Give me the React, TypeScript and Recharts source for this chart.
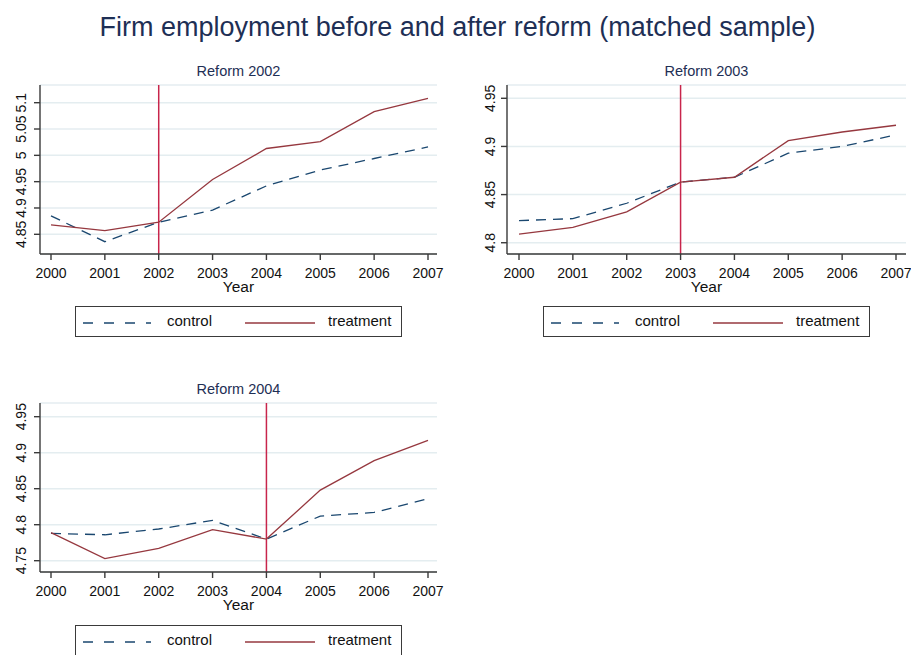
import React from "react";
import { CartesianGrid, Line, LineChart, ReferenceLine, XAxis, YAxis } from "recharts";

// Mean log firm employment by year, matched sample, one panel per reform cohort.
const YEARS = [2000, 2001, 2002, 2003, 2004, 2005, 2006, 2007];

const CONTROL_2002 = [4.885, 4.836, 4.873, 4.896, 4.942, 4.972, 4.994, 5.016];
const TREATMENT_2002 = [4.868, 4.857, 4.873, 4.954, 5.013, 5.026, 5.083, 5.108];

const CONTROL_2003 = [4.823, 4.825, 4.841, 4.863, 4.868, 4.893, 4.9, 4.912];
const TREATMENT_2003 = [4.809, 4.816, 4.832, 4.863, 4.868, 4.906, 4.915, 4.922];

const CONTROL_2004 = [4.788, 4.786, 4.794, 4.806, 4.78, 4.812, 4.817, 4.836];
const TREATMENT_2004 = [4.789, 4.753, 4.767, 4.793, 4.78, 4.848, 4.889, 4.917];

const Y_TICKS_2002 = [4.85, 4.9, 4.95, 5, 5.05, 5.1];
const Y_TICKS_2003 = [4.8, 4.85, 4.9, 4.95];
const Y_TICKS_2004 = [4.75, 4.8, 4.85, 4.9, 4.95];

const FONT = '"Liberation Sans", Arial, Helvetica, sans-serif';
const NAVY = "#1a476f";
const MAROON = "#96383f";
const CRANBERRY = "#c8254b";
const GRID = "#e4edf0";
const AXIS = "#3a3a3a";
const TITLE_COLOR = "#1e2f55";
const TEXT = "#111111";

interface PanelProps {
  subtitle: string;
  reform: number;
  control: number[];
  treatment: number[];
  yDomain: [number, number];
  yTicks: number[];
  left: number;
  top: number;
  width: number;
  plotTop: number;
  xAxisHeight: number;
  yAxisWidth: number;
  rightMargin: number;
  xPad: { left: number; right: number };
  labelX: number;
  legendLeft: number;
  legendTop: number;
}

function Legend({ left, top }: { left: number; top: number }) {
  return (
    <div
      style={{
        position: "absolute",
        left,
        top,
        width: 325,
        height: 29,
        border: `1.5px solid ${AXIS}`,
        background: "#fff",
        fontFamily: FONT,
        fontSize: 15,
        color: TEXT,
      }}
    >
      <svg width={80} height={4} style={{ position: "absolute", left: 7, top: 14 }}>
        <line x1={0} y1={2} x2={68} y2={2} stroke={NAVY} strokeWidth={1.4} strokeDasharray="10 11" />
      </svg>
      <span style={{ position: "absolute", left: 91, top: 5 }}>control</span>
      <svg width={80} height={4} style={{ position: "absolute", left: 169, top: 14 }}>
        <line x1={0} y1={2} x2={70} y2={2} stroke={MAROON} strokeWidth={1.4} />
      </svg>
      <span style={{ position: "absolute", left: 252, top: 5 }}>treatment</span>
    </div>
  );
}

function Panel(p: PanelProps) {
  const rows = YEARS.map((year, i) => ({
    year,
    control: p.control[i],
    treatment: p.treatment[i],
  }));
  const plotHeight = 169;
  const height = p.plotTop + plotHeight + p.xAxisHeight;
  const plotLeft = p.yAxisWidth;
  const plotRight = p.width - p.rightMargin;

  return (
    <>
      <div
        style={{
          position: "absolute",
          left: p.left + plotLeft,
          width: plotRight - plotLeft,
          top: p.top + p.plotTop - 22,
          textAlign: "center",
          fontFamily: FONT,
          fontSize: 14.5,
          lineHeight: "16px",
          color: TITLE_COLOR,
        }}
      >
        {p.subtitle}
      </div>
      <div style={{ position: "absolute", left: p.left, top: p.top }}>
        <LineChart
          width={p.width}
          height={height}
          data={rows}
          margin={{ top: p.plotTop, right: p.rightMargin, bottom: 0, left: 0 }}
        >
          <CartesianGrid vertical={false} stroke={GRID} strokeWidth={1.5} />
          <XAxis
            dataKey="year"
            type="number"
            domain={[2000, 2007]}
            ticks={YEARS}
            padding={p.xPad}
            height={p.xAxisHeight}
            interval={0}
            stroke={AXIS}
            strokeWidth={1.4}
            tickSize={6}
            tickMargin={8}
            tick={{ fontSize: 14, fill: TEXT, fontFamily: FONT }}
            label={{
              content: (lp: any) => {
                const vb = lp.viewBox || {};
                return (
                  <text
                    x={vb.x + vb.width / 2}
                    y={vb.y + 38}
                    textAnchor="middle"
                    fontSize={15.5}
                    fontFamily={FONT}
                    fill={TEXT}
                  >
                    Year
                  </text>
                );
              },
            }}
          />
          <YAxis
            type="number"
            domain={p.yDomain}
            ticks={p.yTicks}
            width={p.yAxisWidth}
            stroke={AXIS}
            strokeWidth={1.4}
            tickSize={6}
            tick={(tp: any) => (
              <text
                x={p.labelX}
                y={tp.y}
                transform={`rotate(-90 ${p.labelX} ${tp.y})`}
                textAnchor="middle"
                dy="0.36em"
                fontSize={14}
                fontFamily={FONT}
                fill={TEXT}
              >
                {String(tp.payload.value)}
              </text>
            )}
          />
          <ReferenceLine x={p.reform} stroke={CRANBERRY} strokeWidth={1.5} ifOverflow="extendDomain" />
          <Line
            type="linear"
            dataKey="control"
            stroke={NAVY}
            strokeWidth={1.3}
            strokeDasharray="10 7"
            dot={false}
            isAnimationActive={false}
          />
          <Line
            type="linear"
            dataKey="treatment"
            stroke={MAROON}
            strokeWidth={1.3}
            dot={false}
            isAnimationActive={false}
          />
        </LineChart>
      </div>
      <Legend left={p.legendLeft} top={p.legendTop} />
    </>
  );
}

export default function App() {
  return (
    <div
      style={{
        position: "absolute",
        left: 0,
        top: 0,
        width: 911,
        height: 655,
        overflow: "hidden",
        background: "#fff",
      }}
    >
      <div
        style={{
          position: "absolute",
          left: 0,
          top: 12,
          width: 915,
          textAlign: "center",
          fontFamily: FONT,
          fontSize: 27,
          lineHeight: "30px",
          color: TITLE_COLOR,
        }}
      >
        Firm employment before and after reform (matched sample)
      </div>
      <Panel
        subtitle="Reform 2002"
        reform={2002}
        control={CONTROL_2002}
        treatment={TREATMENT_2002}
        yDomain={[4.8126, 5.1336]}
        yTicks={Y_TICKS_2002}
        left={0}
        top={60}
        width={450}
        plotTop={25}
        xAxisHeight={46}
        yAxisWidth={40}
        rightMargin={13}
        xPad={{ left: 11, right: 9 }}
        labelX={21}
        legendLeft={75}
        legendTop={306}
      />
      <Panel
        subtitle="Reform 2003"
        reform={2003}
        control={CONTROL_2003}
        treatment={TREATMENT_2003}
        yDomain={[4.7883, 4.9638]}
        yTicks={Y_TICKS_2003}
        left={470}
        top={60}
        width={441}
        plotTop={25}
        xAxisHeight={46}
        yAxisWidth={37}
        rightMargin={5}
        xPad={{ left: 12, right: 10 }}
        labelX={20}
        legendLeft={543}
        legendTop={306}
      />
      <Panel
        subtitle="Reform 2004"
        reform={2004}
        control={CONTROL_2004}
        treatment={TREATMENT_2004}
        yDomain={[4.7343, 4.969]}
        yTicks={Y_TICKS_2004}
        left={0}
        top={380}
        width={450}
        plotTop={23}
        xAxisHeight={48}
        yAxisWidth={40}
        rightMargin={13}
        xPad={{ left: 11, right: 9 }}
        labelX={21}
        legendLeft={75}
        legendTop={625}
      />
    </div>
  );
}
